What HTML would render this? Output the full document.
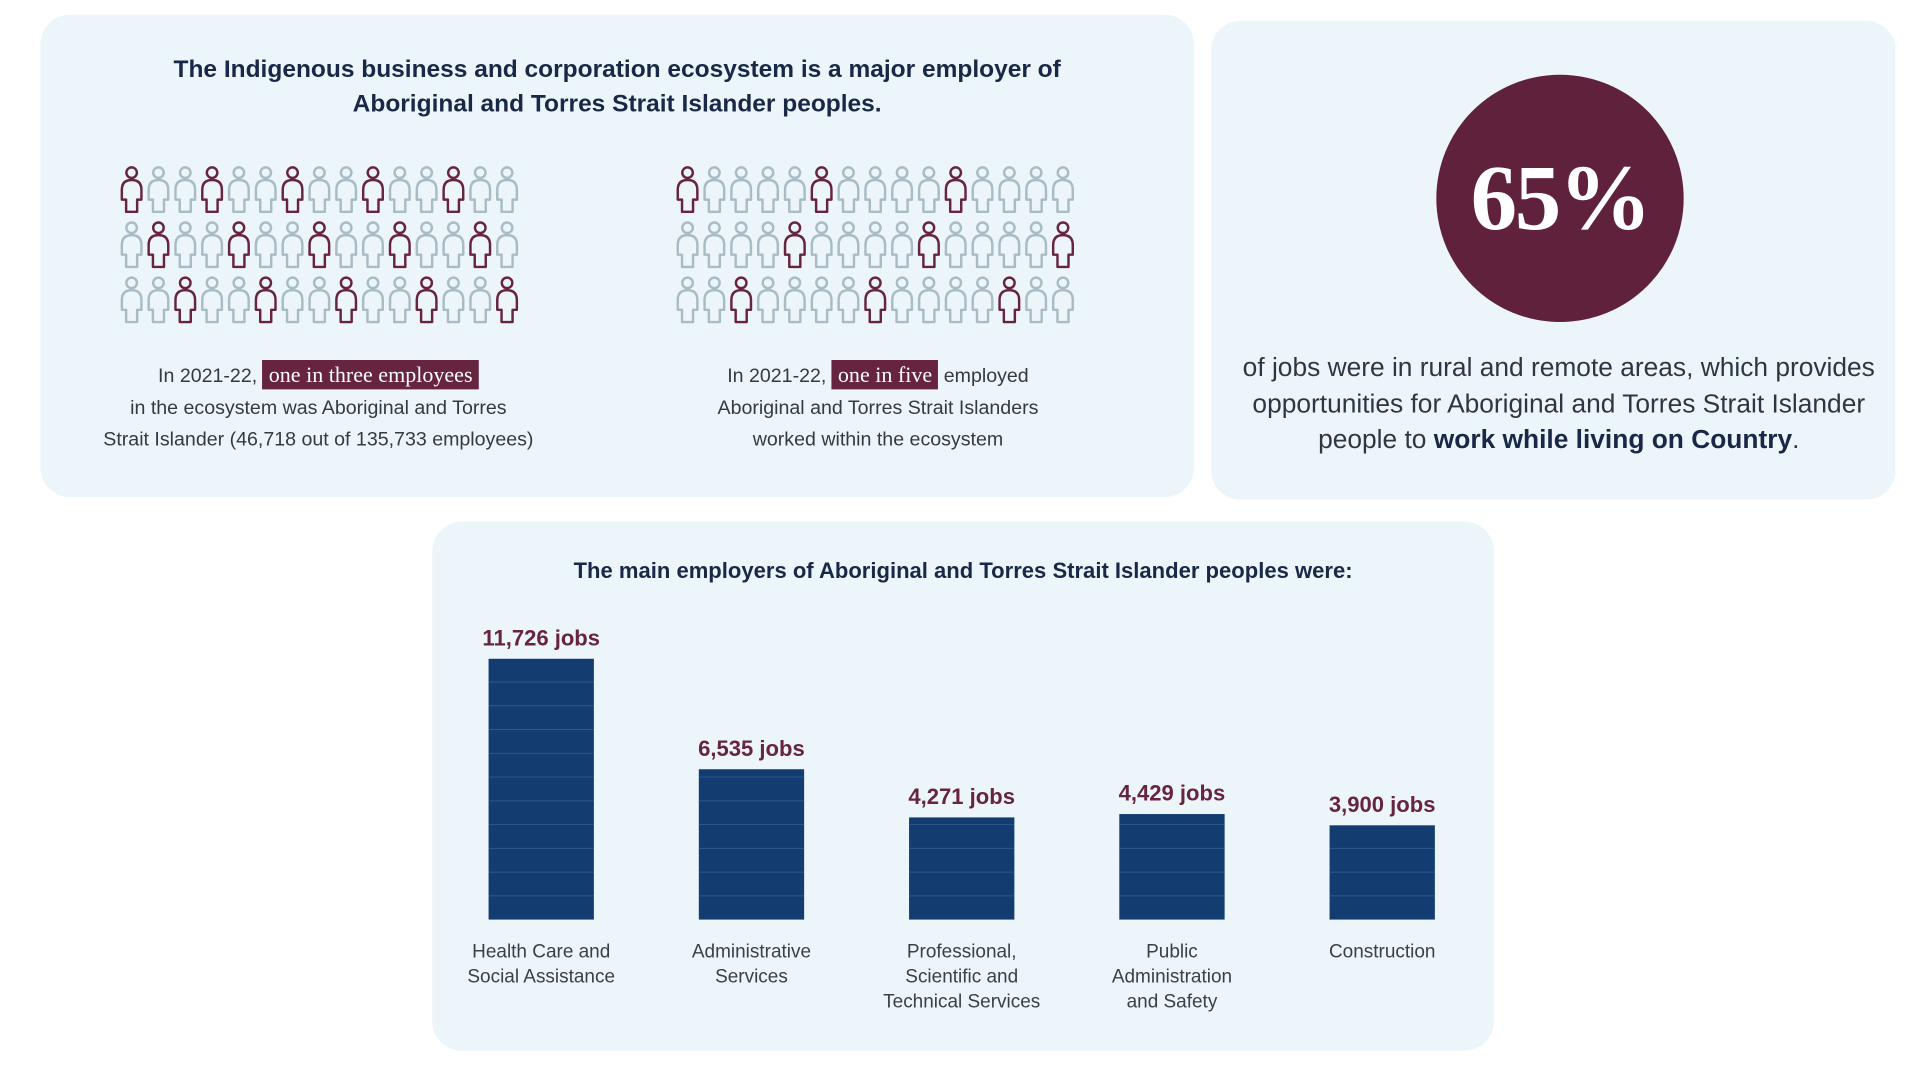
<!DOCTYPE html>
<html><head><meta charset="utf-8"><style>
html,body{margin:0;padding:0;background:#fff;overflow:hidden}
#stage{position:absolute;left:0;top:0;width:1568px;height:882px;transform:scale(1.22449);transform-origin:0 0;font-family:"Liberation Sans",sans-serif}
.panel{position:absolute;background:#ecf5f9;border-radius:24px}
.title{position:absolute;text-align:center;font-weight:bold;color:#1a2847}
.cap{position:absolute;text-align:center;color:#333a44;font-size:16px;line-height:26px}
.hl{background:#672440;color:#fff;font-family:"Liberation Serif",serif;font-size:18px;padding:2px 5px}
.grid{position:absolute}
</style></head><body>
<div id="stage">
<div class="panel" style="left:33px;top:12px;width:942px;height:394px"></div>
<div class="panel" style="left:989px;top:17px;width:559px;height:391px"></div>
<div class="panel" style="left:353px;top:426px;width:867px;height:432px"></div>

<div class="title" style="left:33px;top:43px;width:942px;font-size:20px;line-height:28px">The Indigenous business and corporation ecosystem is a major employer of<br>Aboriginal and Torres Strait Islander peoples.</div>

<svg class="grid" id="grid1" style="left:96px;top:135px" width="335" height="136"></svg>
<svg class="grid" id="grid2" style="left:550px;top:135px" width="335" height="136"></svg>

<div class="cap" style="left:40px;top:293px;width:440px">In 2021-22, <span class="hl">one in three employees</span><br>in the ecosystem was Aboriginal and Torres<br>Strait Islander (46,718 out of 135,733 employees)</div>
<div class="cap" style="left:497px;top:293px;width:440px">In 2021-22, <span class="hl">one in five</span> employed<br>Aboriginal and Torres Strait Islanders<br>worked within the ecosystem</div>

<div style="position:absolute;left:1173px;top:61px;width:202px;height:202px;border-radius:50%;background:#60213d;color:#fff;font-family:'Liberation Serif',serif;font-weight:bold;font-size:76px;line-height:202px;text-align:center;letter-spacing:-2px">65%</div>
<div style="position:absolute;left:995px;top:286px;width:556px;text-align:center;color:#2e3644;font-size:21.5px;line-height:29.5px">of jobs were in rural and remote areas, which provides<br>opportunities for Aboriginal and Torres Strait Islander<br>people to <b style="color:#1a2847">work while living on Country</b>.</div>

<div class="title" style="left:353px;top:454px;width:867px;font-size:18px;line-height:24px">The main employers of Aboriginal and Torres Strait Islander peoples were:</div>
<svg id="chart" style="position:absolute;left:353px;top:426px" width="867" height="432"></svg>
</div>
<script>
const categories=[["Health Care and","Social Assistance"],["Administrative","Services"],["Professional,","Scientific and","Technical Services"],["Public","Administration","and Safety"],["Construction"]];
const jobs=[11726,6535,4271,4429,3900];
const valueLabels=["11,726 jobs","6,535 jobs","4,271 jobs","4,429 jobs","3,900 jobs"];
const grid1Highlight=[[0,3,6,9,12],[1,4,7,10,13],[2,5,8,11,14]];
const grid2Highlight=[[0,5,10],[4,9,14],[2,7,12]];
const NS="http://www.w3.org/2000/svg";
function mk(t,a){const e=document.createElementNS(NS,t);for(const k in a)e.setAttribute(k,a[k]);return e;}
function drawGrid(svg,hl){
  for(let r=0;r<3;r++)for(let c=0;c<15;c++){
    const on=hl[r].includes(c);const col=on?"#672440":"#a9bcc6";
    const g=mk("g",{transform:`translate(${2+c*21.9},${r*45})`});
    
    
    g.appendChild(mk("circle",{cx:9.5,cy:6,r:4.3,fill:"none",stroke:col,"stroke-width":2}));
    g.appendChild(mk("path",{d:"M5,38 L5,28 L1.5,28 L1.5,20 Q1.5,12 9.5,12 Q17.5,12 17.5,20 L17.5,28 L14,28 L14,38 Z",fill:"none",stroke:col,"stroke-width":2,"stroke-linejoin":"round"}));
    svg.appendChild(g);
  }
}
drawGrid(document.getElementById("grid1"),grid1Highlight);
drawGrid(document.getElementById("grid2"),grid2Highlight);
const chart=document.getElementById("chart");
const baseY=325, maxH=213, maxV=11726, minV=-530, barW=86;
const y=v=>baseY-(v-minV)/(maxV-minV)*maxH;
const x=i=>89+i*171.7;
jobs.forEach((v,i)=>{
  const top=y(v);
  const b=mk("rect",{x:x(i)-barW/2,y:top,width:barW,height:baseY-top,fill:"#133c70"});
  
  
  chart.appendChild(b);
  for(let s=baseY-19.4;s>top+3;s-=19.4){
    chart.appendChild(mk("line",{x1:x(i)-barW/2,x2:x(i)+barW/2,y1:s,y2:s,stroke:"#2f5a8f","stroke-width":0.8}));
  }
  const t=mk("text",{x:x(i),y:top-11,"text-anchor":"middle",fill:"#672440","font-size":18,"font-weight":"bold","font-family":"Liberation Sans, sans-serif"});
  t.textContent=valueLabels[i];
  
  
  chart.appendChild(t);
  categories[i].forEach((ln,j)=>{
    const c=mk("text",{x:x(i),y:356+j*20.5,"text-anchor":"middle",fill:"#3a404a","font-size":15.5,"font-family":"Liberation Sans, sans-serif"});
    c.textContent=ln;
    
    
    chart.appendChild(c);
  });
});
</script>
</body></html>
